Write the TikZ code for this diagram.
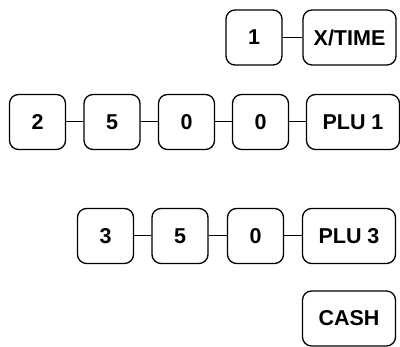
\documentclass[tikz,border=0pt]{standalone}
\usepackage{fontspec}
\setmainfont{Liberation Sans}
\begin{document}
\begin{tikzpicture}[x=1pt,y=1pt,
  key/.style={draw, line width=1.3pt, rounded corners=9pt, minimum height=55pt, inner sep=0pt, font=\bfseries\fontsize{21.5}{21.5}\selectfont},
  small/.style={key, minimum width=56pt},
  wide/.style={key, minimum width=93pt},
  link/.style={line width=1pt}]
\useasboundingbox (0,0) rectangle (400,347);
% row 1
\node[small] (k1) at (254,309.5) {1};
\node[wide] (xt) at (349.5,309.5) {X/TIME};
\draw[link] (k1) -- (xt);
% row 2
\node[small] (a2) at (37.5,225) {2};
\node[small] (a5) at (112,225) {5};
\node[small] (a0) at (186.5,225) {0};
\node[small] (b0) at (260.5,225) {0};
\node[wide] (plu1) at (353,225) {PLU 1};
\draw[link] (a2) -- (a5);
\draw[link] (a5) -- (a0);
\draw[link] (a0) -- (b0);
\draw[link] (b0) -- (plu1);
% row 3
\node[small] (c3) at (105.5,111) {3};
\node[small] (c5) at (180,111) {5};
\node[small] (c0) at (255.5,111) {0};
\node[wide] (plu3) at (349,111) {PLU 3};
\draw[link] (c3) -- (c5);
\draw[link] (c5) -- (c0);
\draw[link] (c0) -- (plu3);
% cash
\node[wide] (cash) at (349,28.5) {CASH};
\end{tikzpicture}
\end{document}
